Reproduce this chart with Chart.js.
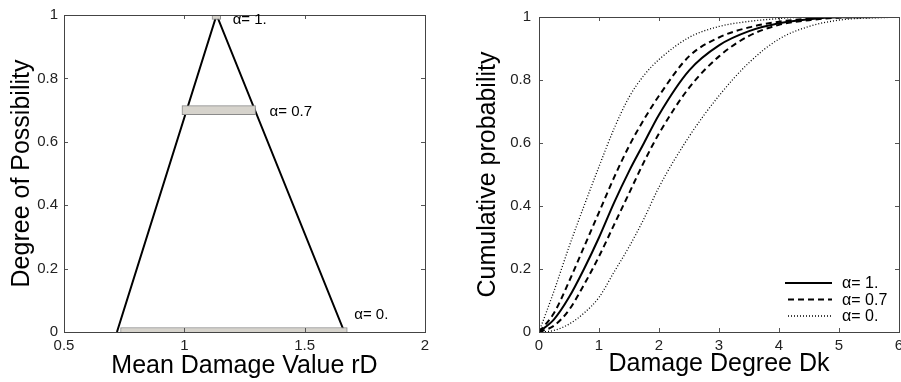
<!DOCTYPE html>
<html>
<head>
<meta charset="utf-8">
<script src="https://cdn.jsdelivr.net/npm/chart.js@4.4.0/dist/chart.umd.min.js"></script>
<style>
html, body { margin: 0; padding: 0; background: #fff; overflow: hidden; width: 901px; height: 382px; }
#left { position: absolute; left: 0; top: 0; }
#right { position: absolute; left: 450px; top: 0; }
</style>
</head>
<body>
<canvas id="left" width="450" height="382"></canvas>
<canvas id="right" width="460" height="382"></canvas>
<script>
// left panel: triangular possibility distribution and its alpha cuts
var triangleX = [0.72, 1.134, 1.665];
var triangleY = [0, 1, 0];
var alphaLevels = [1, 0.7, 0];
var alphaLow = [1.115, 0.99, 0.735];
var alphaHigh = [1.151, 1.296, 1.677];
var alphaLabels = ['α= 1.', 'α= 0.7', 'α= 0.'];

// right panel: cumulative probability curves
var dk = [0, 0.25, 0.5, 0.75, 1, 1.25, 1.5, 1.75, 2, 2.5, 3, 3.5, 4, 4.5, 5, 6];
var cdfAlpha1 = [0, 0.04, 0.11, 0.2, 0.3, 0.41, 0.51, 0.6, 0.69, 0.83, 0.91, 0.955, 0.98, 0.993, 0.999, 1];
var cdfAlpha07Low = [0, 0.06, 0.16, 0.27, 0.38, 0.49, 0.59, 0.675, 0.75, 0.875, 0.935, 0.967, 0.985, 0.995, 1, 1];
var cdfAlpha07High = [0, 0.02, 0.07, 0.15, 0.24, 0.34, 0.44, 0.54, 0.63, 0.775, 0.875, 0.94, 0.975, 0.99, 0.998, 1];
var cdfAlpha0Low = [0, 0.13, 0.27, 0.4, 0.525, 0.645, 0.745, 0.815, 0.865, 0.935, 0.97, 0.986, 0.995, 1, 1, 1];
var cdfAlpha0High = [0, 0.005, 0.025, 0.06, 0.11, 0.19, 0.27, 0.36, 0.46, 0.62, 0.75, 0.855, 0.93, 0.97, 0.99, 1];
var legendLabels = ['α= 1.', 'α= 0.7', 'α= 0.'];

Chart.defaults.font.family = 'Arial, "Liberation Sans", sans-serif';
Chart.defaults.color = '#000';

function pts(xs, ys) {
  return xs.map(function(x, i) { return {x: x, y: ys[i]}; });
}

// matlab-like box with inward ticks on all four sides
var boxPlugin = {
  id: 'box',
  afterDatasetsDraw: function(chart) {
    var a = chart.chartArea, ctx = chart.ctx;
    var xs = chart.scales.x, ys = chart.scales.y;
    ctx.save();
    ctx.strokeStyle = '#555';
    ctx.lineWidth = 1;
    ctx.beginPath();
    xs.ticks.forEach(function(t) {
      var p = Math.round(xs.getPixelForValue(t.value)) + 0.5;
      ctx.moveTo(p, a.bottom); ctx.lineTo(p, a.bottom - 4);
      ctx.moveTo(p, a.top); ctx.lineTo(p, a.top + 4);
    });
    ys.ticks.forEach(function(t) {
      var p = Math.round(ys.getPixelForValue(t.value)) + 0.5;
      ctx.moveTo(a.left, p); ctx.lineTo(a.left + 4, p);
      ctx.moveTo(a.right, p); ctx.lineTo(a.right - 4, p);
    });
    ctx.stroke();
    ctx.strokeStyle = '#444';
    ctx.strokeRect(Math.round(a.left) + 0.5, Math.round(a.top) + 0.5, Math.round(a.right - a.left), Math.round(a.bottom - a.top));
    ctx.restore();
  }
};

var alphaTextPlugin = {
  id: 'alphaText',
  afterDatasetsDraw: function(chart) {
    var ctx = chart.ctx, xs = chart.scales.x, ys = chart.scales.y;
    var dx = [12, 14, 7], dy = [5, 2, -17];
    ctx.save();
    ctx.font = '15px Arial, "Liberation Sans", sans-serif';
    ctx.fillStyle = '#000';
    ctx.textBaseline = 'middle';
    alphaLabels.forEach(function(lbl, i) {
      ctx.fillText(lbl, xs.getPixelForValue(alphaHigh[i]) + dx[i], ys.getPixelForValue(alphaLevels[i]) + dy[i]);
    });
    ctx.restore();
  }
};

var cdfLegendPlugin = {
  id: 'cdfLegend',
  afterDatasetsDraw: function(chart) {
    var a = chart.chartArea, ctx = chart.ctx;
    var rows = [0, 1, 3];
    ctx.save();
    ctx.font = '16px Arial, "Liberation Sans", sans-serif';
    ctx.textBaseline = 'middle';
    rows.forEach(function(di, i) {
      var ds = chart.data.datasets[di];
      var y = a.bottom - 49 + i * 16.5;
      ctx.strokeStyle = '#000';
      ctx.lineWidth = ds.borderWidth;
      ctx.setLineDash(ds.borderDash || []);
      ctx.beginPath();
      ctx.moveTo(a.right - 114 + (i ? 3 : 0), y);
      ctx.lineTo(a.right - 67, y);
      ctx.stroke();
      ctx.setLineDash([]);
      ctx.fillStyle = '#000';
      ctx.fillText(legendLabels[i], a.right - 57, y + 1);
    });
    ctx.restore();
  }
};

function tickText(v) {
  return String(Math.round(v * 100) / 100);
}

function axisX(min, max, step, title, titlePad) {
  return {
    type: 'linear', min: min, max: max, offset: false,
    afterFit: function(s) { s.height = 50; },
    grid: { display: false, drawTicks: false },
    border: { display: false },
    ticks: { stepSize: step, padding: 5, font: { size: 15 }, color: '#222', maxRotation: 0, callback: tickText },
    title: { display: true, text: title, font: { size: 25 }, padding: { top: 0, bottom: titlePad } }
  };
}

function axisY(width, title, titlePad, labelPad) {
  return {
    type: 'linear', min: 0, max: 1, offset: false,
    afterFit: function(s) { s.width = width; },
    grid: { display: false, drawTicks: false },
    border: { display: false },
    ticks: { stepSize: 0.2, padding: labelPad, font: { size: 15 }, color: '#222', callback: tickText },
    title: { display: true, text: title, font: { size: 25 }, padding: { top: titlePad, bottom: 0 } }
  };
}

new Chart(document.getElementById('left').getContext('2d'), {
  type: 'line',
  data: {
    datasets: [{
      type: 'bar',
      label: 'alpha cuts',
      indexAxis: 'y',
      data: alphaLevels.map(function(lv, i) { return {x: [alphaLow[i], alphaHigh[i]], y: lv}; }),
      backgroundColor: '#d6d3cc',
      borderColor: '#8a8a8a',
      borderWidth: 1,
      borderSkipped: false,
      barThickness: 9,
      order: 0
    }, {
      label: 'possibility',
      data: pts(triangleX, triangleY),
      borderColor: '#000',
      borderWidth: 2,
      pointRadius: 0,
      tension: 0,
      fill: false,
      order: 1
    }]
  },
  options: {
    responsive: false,
    animation: false,
    layout: { padding: { left: 0, top: 14, right: 25, bottom: 0 } },
    plugins: { legend: { display: false }, tooltip: { enabled: false } },
    scales: {
      x: axisX(0.5, 2, 0.5, 'Mean Damage Value rD', 1),
      y: axisY(64, 'Degree of Possibility', 7, 6)
    }
  },
  plugins: [boxPlugin, alphaTextPlugin]
});

function curve(label, ys, width, dash) {
  return {
    label: label,
    data: pts(dk, ys),
    borderColor: '#000',
    borderWidth: width,
    borderDash: dash,
    pointRadius: 0,
    cubicInterpolationMode: 'monotone',
    fill: false
  };
}

new Chart(document.getElementById('right').getContext('2d'), {
  type: 'line',
  data: {
    datasets: [
      curve('α= 1.', cdfAlpha1, 2, []),
      curve('α= 0.7', cdfAlpha07Low, 2, [6, 4]),
      curve('α= 0.7', cdfAlpha07High, 2, [6, 4]),
      curve('α= 0.', cdfAlpha0Low, 1.3, [1, 2]),
      curve('α= 0.', cdfAlpha0High, 1.3, [1, 2])
    ]
  },
  options: {
    responsive: false,
    animation: false,
    layout: { padding: { left: 0, top: 14, right: 11, bottom: 0 } },
    plugins: { legend: { display: false }, tooltip: { enabled: false } },
    scales: {
      x: axisX(0, 6, 1, 'Damage Degree Dk', 3),
      y: axisY(89, 'Cumulative probability', 23, 8)
    }
  },
  plugins: [boxPlugin, cdfLegendPlugin]
});
</script>
</body>
</html>
